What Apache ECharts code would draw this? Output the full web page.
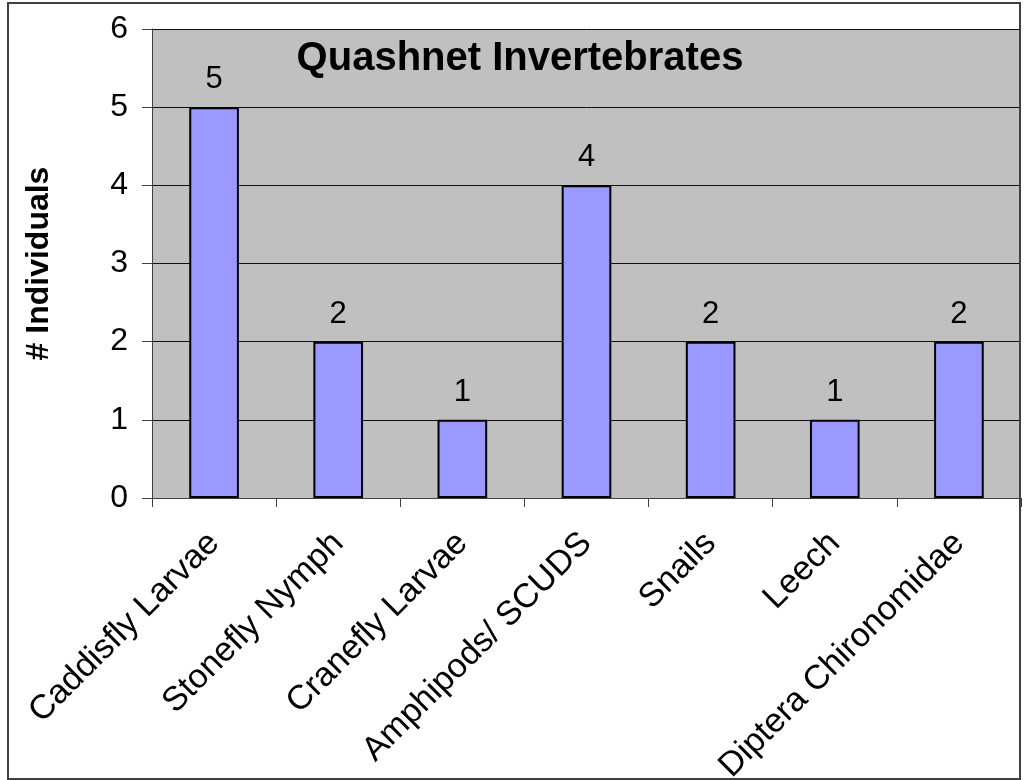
<!DOCTYPE html>
<html>
<head>
<meta charset="utf-8">
<script src="https://cdn.jsdelivr.net/npm/echarts@6/dist/echarts.min.js"></script>
<style>
  html, body { margin: 0; padding: 0; background: #fff; }
  #chart { width: 1024px; height: 780px; }
</style>
</head>
<body>
<div id="chart"></div>
<script>
// Invertebrate counts from the Quashnet sample
const categories = ['Caddisfly Larvae', 'Stonefly Nymph', 'Cranefly Larvae', 'Amphipods/ SCUDS', 'Snails', 'Leech', 'Diptera Chironomidae'];
const counts = [5, 2, 1, 4, 2, 1, 2];
const yTicks = [0, 1, 2, 3, 4, 5, 6];

const chart = echarts.init(document.getElementById('chart'), null, { renderer: 'canvas' });
const font = 'Liberation Sans, Arial, sans-serif';

chart.setOption({
  animation: false,
  backgroundColor: '#ffffff',
  title: {
    text: 'Quashnet Invertebrates',
    left: 515, top: 34, textAlign: 'center',
    textStyle: { fontFamily: font, fontSize: 40, fontWeight: 'bold', color: '#000' }
  },
  grid: {
    left: 152, right: 3, top: 29, bottom: 282,
    containLabel: false, outerBoundsMode: 'none',
    show: true, backgroundColor: '#c0c0c0', borderWidth: 0
  },
  xAxis: {
    type: 'category',
    data: categories,
    axisLine: { show: true, lineStyle: { color: '#404040', width: 1 } },
    axisTick: { show: true, alignWithLabel: false, length: 9, lineStyle: { color: '#404040' } },
    axisLabel: { rotate: 45, fontFamily: font, fontSize: 34, color: '#000', margin: 40, interval: 0 }
  },
  yAxis: {
    type: 'value',
    min: 0, max: 6, interval: 1,
    name: '# Individuals',
    nameLocation: 'middle',
    nameGap: 97,
    nameTextStyle: { fontFamily: font, fontSize: 32, fontWeight: 'bold', color: '#000' },
    axisLine: { show: true, lineStyle: { color: '#404040', width: 1 } },
    axisTick: { show: true, length: 10, lineStyle: { color: '#404040' } },
    axisLabel: {
      fontFamily: font, fontSize: 32, color: '#000', margin: 24,
      formatter: v => yTicks.includes(v) ? String(v) : ''
    },
    splitLine: { show: true, lineStyle: { color: '#111', width: 1 } }
  },
  series: [{
    type: 'bar',
    data: counts,
    barWidth: '40%',
    itemStyle: { color: '#9999ff', borderColor: '#000', borderWidth: 2 },
    label: { show: true, position: 'top', distance: 12, fontFamily: font, fontSize: 31, color: '#000' }
  }],
  graphic: [{
    type: 'rect',
    shape: { x: 8, y: 3, width: 1012, height: 776 },
    style: { fill: null, stroke: '#404040', lineWidth: 2 },
    silent: true, z: 100
  }]
});
</script>
</body>
</html>
